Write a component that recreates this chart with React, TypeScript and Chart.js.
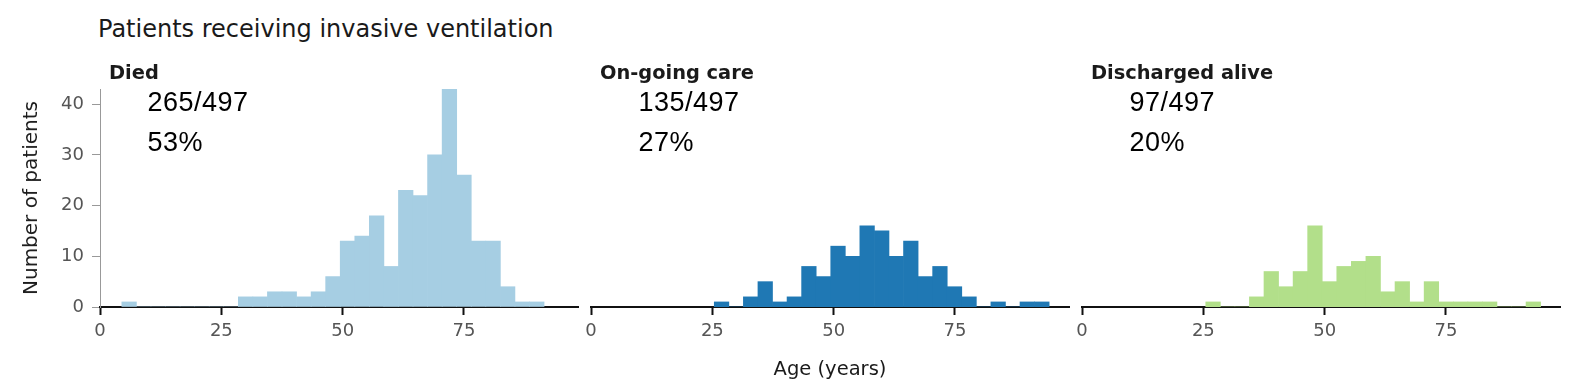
import React, { useEffect, useRef } from "react";
import { Chart, registerables } from "chart.js";

Chart.register(...registerables);

// ---- Data (histogram bin centres in years, counts of patients) ----
const diedAges = [6, 9, 12, 15, 18, 21, 24, 27, 30, 33, 36, 39, 42, 45, 48, 51, 54, 57, 60, 63, 66, 69, 72, 75, 78, 81, 84, 87, 90];
const diedCounts = [1, 0, 0, 0, 0, 0, 0, 0, 2, 2, 3, 3, 2, 3, 6, 13, 14, 18, 8, 23, 22, 30, 43, 26, 13, 13, 4, 1, 1];

const ongoingAges = [26.9, 29.9, 32.9, 35.9, 38.9, 41.9, 44.9, 47.9, 50.9, 53.9, 56.9, 59.9, 62.9, 65.9, 68.9, 71.9, 74.9, 77.9, 80.9, 83.9, 86.9, 89.9, 92.9];
const ongoingCounts = [1, 0, 2, 5, 1, 2, 8, 6, 12, 10, 16, 15, 10, 13, 6, 8, 4, 2, 0, 1, 0, 1, 1];

const dischargedAges = [27, 30, 33, 36, 39, 42, 45, 48, 51, 54, 57, 60, 63, 66, 69, 72, 75, 78, 81, 84, 87, 90, 93];
const dischargedCounts = [1, 0, 0, 2, 7, 4, 7, 16, 5, 8, 9, 10, 3, 5, 1, 5, 1, 1, 1, 1, 0, 0, 1];

const panelTitles = ["Died", "On-going care", "Discharged alive"];
const panelFractions = ["265/497", "135/497", "97/497"];
const panelPercents = ["53%", "27%", "20%"];
const panelColors = ["#a6cee3", "#1f78b4", "#b2df8a"];
const xTickStep = 25;
const yTickStep = 10;

const chartTitle = "Patients receiving invasive ventilation";
const xAxisTitle = "Age (years)";
const yAxisTitle = "Number of patients";

// ---- Layout ----
const PANEL_ZERO_X = [100, 591, 1082];
const AXIS_W = 60;
const AREA_W = 479;
const CANVAS_TOP = 80;
const PAD_TOP = 9;
const AREA_H = 218;
const XAXIS_H = 60;
const X_MAX = 98.7;
const Y_MAX = 43;

function Panel({ idx, ages, counts }: { idx: number; ages: number[]; counts: number[] }) {
  const ref = useRef<HTMLCanvasElement | null>(null);
  useEffect(() => {
    if (!ref.current) return;
    const showY = idx === 0;
    const chart = new Chart(ref.current, {
      type: "bar",
      data: {
        datasets: [
          {
            data: ages.map((a, i) => ({ x: a, y: counts[i] })),
            backgroundColor: panelColors[idx],
            borderWidth: 0,
            barPercentage: 1,
            categoryPercentage: 1,
            grouped: false,
          } as any,
        ],
      },
      options: {
        animation: false,
        responsive: false,
        maintainAspectRatio: false,
        devicePixelRatio: 1,
        layout: { padding: { top: PAD_TOP, left: 0, right: 0, bottom: 0 } },
        plugins: { legend: { display: false }, tooltip: { enabled: false }, title: { display: false } },
        scales: {
          x: {
            type: "linear",
            min: 0,
            max: X_MAX,
            offset: false,
            z: 1,
            ticks: {
              stepSize: xTickStep,
              includeBounds: false,
              color: "#555",
              font: { family: "DejaVu Sans", size: 18 },
              padding: 6,
              maxRotation: 0,
              autoSkip: false,
            },
            grid: {
              display: true,
              offset: false,
              drawOnChartArea: false,
              drawTicks: true,
              tickLength: 8,
              tickColor: "#111",
              tickWidth: 2,
              color: "#111",
            },
            border: { display: true, color: "#111", width: 2 },
            afterFit: (s: any) => {
              s.height = XAXIS_H;
              s.paddingLeft = 0;
              s.paddingRight = 0;
            },
          },
          y: {
            type: "linear",
            min: 0,
            max: Y_MAX,
            ticks: {
              display: showY,
              stepSize: yTickStep,
              includeBounds: false,
              color: "#555",
              font: { family: "DejaVu Sans", size: 18 },
              padding: 8,
            },
            grid: {
              display: showY,
              drawOnChartArea: false,
              tickLength: 8,
              tickColor: "#999",
              tickWidth: 1,
              color: "#999",
            },
            border: { display: showY, color: "#999", width: 1 },
            afterFit: (s: any) => {
              s.width = AXIS_W;
              s.paddingTop = 0;
              s.paddingBottom = 0;
            },
          },
        },
      } as any,
    });
    return () => chart.destroy();
  }, [idx, ages, counts]);

  const left = PANEL_ZERO_X[idx] - AXIS_W;
  return (
    <canvas
      ref={ref}
      width={AXIS_W + AREA_W}
      height={PAD_TOP + AREA_H + XAXIS_H}
      style={{
        position: "absolute",
        left,
        top: CANVAS_TOP,
        width: AXIS_W + AREA_W,
        height: PAD_TOP + AREA_H + XAXIS_H,
      }}
    />
  );
}

const txt = (extra: React.CSSProperties): React.CSSProperties => ({
  position: "absolute",
  whiteSpace: "nowrap",
  lineHeight: 1,
  margin: 0,
  ...extra,
});

export default function App() {
  const series = [
    [diedAges, diedCounts],
    [ongoingAges, ongoingCounts],
    [dischargedAges, dischargedCounts],
  ];
  return (
    <div
      style={{
        position: "absolute",
        left: 0,
        top: 0,
        width: 1570,
        height: 389,
        background: "#fff",
        overflow: "hidden",
      }}
    >
      <div style={txt({ left: 98, top: 17, fontFamily: "DejaVu Sans", fontSize: 24, color: "#1a1a1a" })}>
        {chartTitle}
      </div>
      {series.map(([a, c], i) => (
        <Panel key={i} idx={i} ages={a} counts={c} />
      ))}
      {panelTitles.map((t, i) => (
        <div
          key={"t" + i}
          style={txt({
            left: PANEL_ZERO_X[i] + 9,
            top: 63,
            fontFamily: "DejaVu Sans",
            fontWeight: "bold",
            fontSize: 19.4,
            color: "#1a1a1a",
          })}
        >
          {t}
        </div>
      ))}
      {panelFractions.map((t, i) => (
        <div
          key={"f" + i}
          style={txt({
            left: PANEL_ZERO_X[i] + 47.5,
            top: 89,
            fontFamily: "Liberation Sans",
            fontSize: 27,
            letterSpacing: 0.5,
            color: "#000",
          })}
        >
          {t}
        </div>
      ))}
      {panelPercents.map((t, i) => (
        <div
          key={"p" + i}
          style={txt({
            left: PANEL_ZERO_X[i] + 47.5,
            top: 129,
            fontFamily: "Liberation Sans",
            fontSize: 27,
            letterSpacing: 0.5,
            color: "#000",
          })}
        >
          {t}
        </div>
      ))}
      <div
        style={txt({
          left: 830,
          top: 358.5,
          transform: "translateX(-50%)",
          fontFamily: "DejaVu Sans",
          fontSize: 19.5,
          color: "#1a1a1a",
        })}
      >
        {xAxisTitle}
      </div>
      <div
        style={txt({
          left: 29.5,
          top: 198,
          transform: "translate(-50%, -50%) rotate(-90deg)",
          fontFamily: "DejaVu Sans",
          fontSize: 20,
          color: "#1a1a1a",
        })}
      >
        {yAxisTitle}
      </div>
    </div>
  );
}
